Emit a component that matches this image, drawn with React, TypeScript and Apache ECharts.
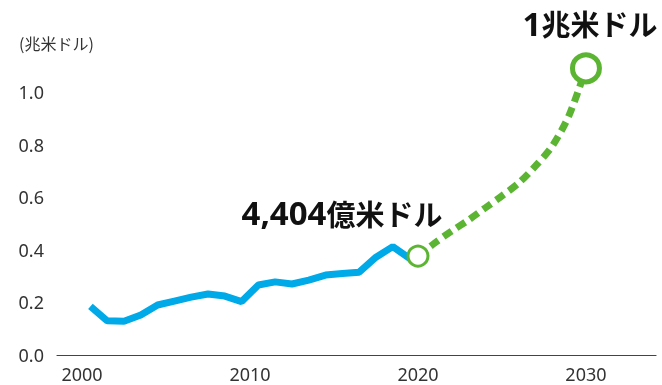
import React, { useEffect, useRef } from "react";
import * as echarts from "echarts";

// Historical market size (trillion USD), plotted at mid-year
const histYears = [2000, 2001, 2002, 2003, 2004, 2005, 2006, 2007, 2008, 2009, 2010, 2011, 2012, 2013, 2014, 2015, 2016, 2017, 2018, 2019];
const histValues = [0.185, 0.13, 0.128, 0.152, 0.19, 0.205, 0.22, 0.232, 0.224, 0.203, 0.266, 0.278, 0.27, 0.285, 0.304, 0.31, 0.315, 0.372, 0.412, 0.367];

// Forecast (trillion USD)
const forecastYears = [2020, 2021, 2022, 2023, 2024, 2025, 2026, 2027, 2028, 2029, 2030];
const forecastValues = [0.376, 0.426, 0.471, 0.513, 0.559, 0.605, 0.654, 0.719, 0.795, 0.912, 1.09];

const xTickYears = [2000, 2010, 2020, 2030];
const unitLabel = "(兆米ドル)";
const startNum = "4,404";
const startUnit = "億米ドル";
const endNum = "1";
const endUnit = "兆米ドル";

const BLUE = "#00A9E8";
const GREEN = "#5BB532";
const TEXT = "#333333";
const LABEL_FONT = "'Noto Sans', 'Noto Sans CJK JP', sans-serif";
const CJK_FONT = "'Noto Sans CJK JP', 'Noto Sans', sans-serif";

export default function App() {
  const ref = useRef<HTMLDivElement>(null);

  useEffect(() => {
    if (!ref.current) return;
    const chart = echarts.init(ref.current, undefined, { renderer: "svg" });

    const histData = histYears.map((y, i) => [y + 0.5, histValues[i]]);
    histData.push([forecastYears[0], forecastValues[0]]);
    const fcData = forecastYears.map((y, i) => [y, forecastValues[i]]);
    const lastIdx = forecastYears.length - 1;

    const rich = {
      n: { fontFamily: "'Noto Sans', sans-serif", fontWeight: "bold", fontSize: 33, lineHeight: 34, color: "#111" },
      u: { fontFamily: CJK_FONT, fontWeight: "bold", fontSize: 29, lineHeight: 34, color: "#111" },
    };

    chart.setOption({
      animation: false,
      grid: { left: 57, right: 6, top: 65.7, bottom: 30 },
      xAxis: {
        type: "value",
        min: 1998.51,
        max: 2034.17,
        axisLine: { show: true, lineStyle: { color: "#444", width: 1.2 } },
        axisTick: { show: false },
        splitLine: { show: false },
        axisLabel: {
          customValues: xTickYears,
          formatter: (v: number) => String(Math.round(v)),
          fontSize: 18,
          color: TEXT,
          fontFamily: LABEL_FONT,
          margin: 10,
        },
      },
      yAxis: {
        type: "value",
        min: 0,
        max: 1.1,
        interval: 0.2,
        axisLine: { show: false },
        axisTick: { show: false },
        splitLine: { show: false },
        axisLabel: {
          formatter: (v: number) => v.toFixed(1),
          showMaxLabel: false,
          fontSize: 18,
          color: TEXT,
          fontFamily: LABEL_FONT,
          margin: 13,
        },
      },
      graphic: [
        {
          type: "text",
          left: 19,
          top: 35,
          style: { text: unitLabel, fontSize: 16, fill: TEXT, fontFamily: CJK_FONT },
        },
      ],
      series: [
        {
          type: "line",
          data: histData,
          symbol: "none",
          lineStyle: { color: BLUE, width: 7 },
          z: 2,
        },
        {
          type: "line",
          data: fcData,
          symbol: "none",
          smooth: 0.3,
          lineStyle: { color: GREEN, width: 7, type: [10, 6], cap: "butt" },
          z: 3,
        },
        {
          type: "scatter",
          z: 5,
          itemStyle: { opacity: 1 },
          data: [
            {
              value: fcData[0],
              symbolSize: 20,
              itemStyle: { color: "#fff", borderColor: GREEN, borderWidth: 3, opacity: 1 },
              label: {
                show: true,
                position: "top",
                formatter: `{n|${startNum}}{u|${startUnit}}`,
                rich,
                offset: [-76, -10],
              },
            },
            {
              value: fcData[lastIdx],
              symbolSize: 27,
              itemStyle: { color: "#fff", borderColor: GREEN, borderWidth: 5, opacity: 1 },
              label: {
                show: true,
                position: "top",
                formatter: `{n|${endNum}}{u|${endUnit}}`,
                rich,
                offset: [4, -7],
              },
            },
          ],
        },
      ],
    });

    return () => chart.dispose();
  }, []);

  return (
    <div
      ref={ref}
      style={{ position: "fixed", left: 0, top: 0, width: 662, height: 385 }}
    />
  );
}
